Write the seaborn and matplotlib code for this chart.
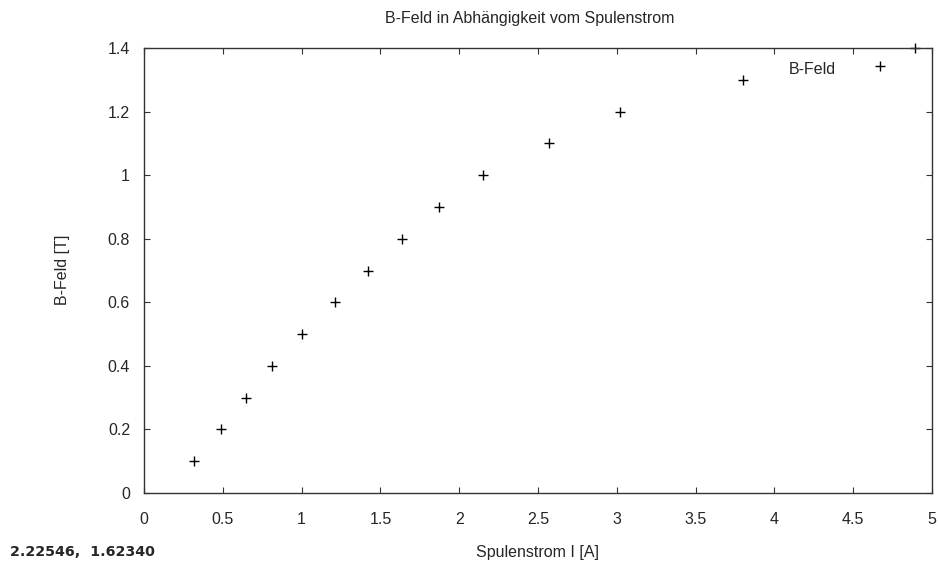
import matplotlib
matplotlib.use("Agg")
import matplotlib.pyplot as plt
import seaborn as sns
import pandas as pd

strom = [0.32, 0.49, 0.65, 0.81, 1.00, 1.21, 1.42, 1.64, 1.87, 2.15, 2.57, 3.02, 3.80, 4.89]
bfeld = [0.1, 0.2, 0.3, 0.4, 0.5, 0.6, 0.7, 0.8, 0.9, 1.0, 1.1, 1.2, 1.3, 1.4]
x_ticks = [0, 0.5, 1, 1.5, 2, 2.5, 3, 3.5, 4, 4.5, 5]
y_ticks = [0, 0.2, 0.4, 0.6, 0.8, 1, 1.2, 1.4]
x_ticklabels = ["0", "0.5", "1", "1.5", "2", "2.5", "3", "3.5", "4", "4.5", "5"]
y_ticklabels = ["0", "0.2", "0.4", "0.6", "0.8", "1", "1.2", "1.4"]

df = pd.DataFrame({"Spulenstrom": strom, "B": bfeld})

sns.set_style("white")
plt.rcParams['font.family'] = ['Liberation Sans', 'DejaVu Sans']
FS = 11.5

fig = plt.figure(figsize=(9.38, 5.66), dpi=100)
ax = fig.add_axes([144/938, 1-493/566, (932-144)/938, (493-48)/566])

sns.scatterplot(data=df, x="Spulenstrom", y="B", marker="+", s=55, color="black",
                linewidth=1.0, ax=ax, clip_on=False, legend=False)

ax.set_xlim(0, 5)
ax.set_ylim(0, 1.4)
ax.set_xticks(x_ticks)
ax.set_xticklabels(x_ticklabels)
ax.set_yticks(y_ticks)
ax.set_yticklabels(y_ticklabels)
ax.tick_params(direction="in", length=4, width=0.8, color="#333333", labelsize=FS,
               top=True, right=True, bottom=True, left=True)
ax.tick_params(axis="x", pad=14)
ax.tick_params(axis="y", pad=10)
for sp in ax.spines.values():
    sp.set_color("#333333")
    sp.set_linewidth(1.0)
ax.set_xlabel("")
ax.set_ylabel("")

# legend in gnuplot style (text then sample)
ax.text(836/938, 1-70/566, "B-Feld", transform=fig.transFigure, ha="right", va="center", fontsize=FS)
ax.plot([(880-144)/(932-144)*5], [(493-66)/(493-48)*1.4], marker="+", ms=7, mew=1.0,
        color="black", linestyle="none", clip_on=False)

fig.text(530/938, 1-18/566, "B-Feld in Abhängigkeit vom Spulenstrom", ha="center", va="center", fontsize=FS)
fig.text(537/938, 1-552/566, "Spulenstrom I [A]", ha="center", va="center", fontsize=FS)
fig.text(62/938, 1-270/566, "B-Feld [T]", ha="center", va="center", rotation=90, fontsize=FS)
fig.text(10/938, 1-552/566, "2.22546,  1.62340", ha="left", va="center", fontsize=10.3,
         fontweight="bold", family=["DejaVu Sans"])

fig.savefig("out.png", dpi=100)
